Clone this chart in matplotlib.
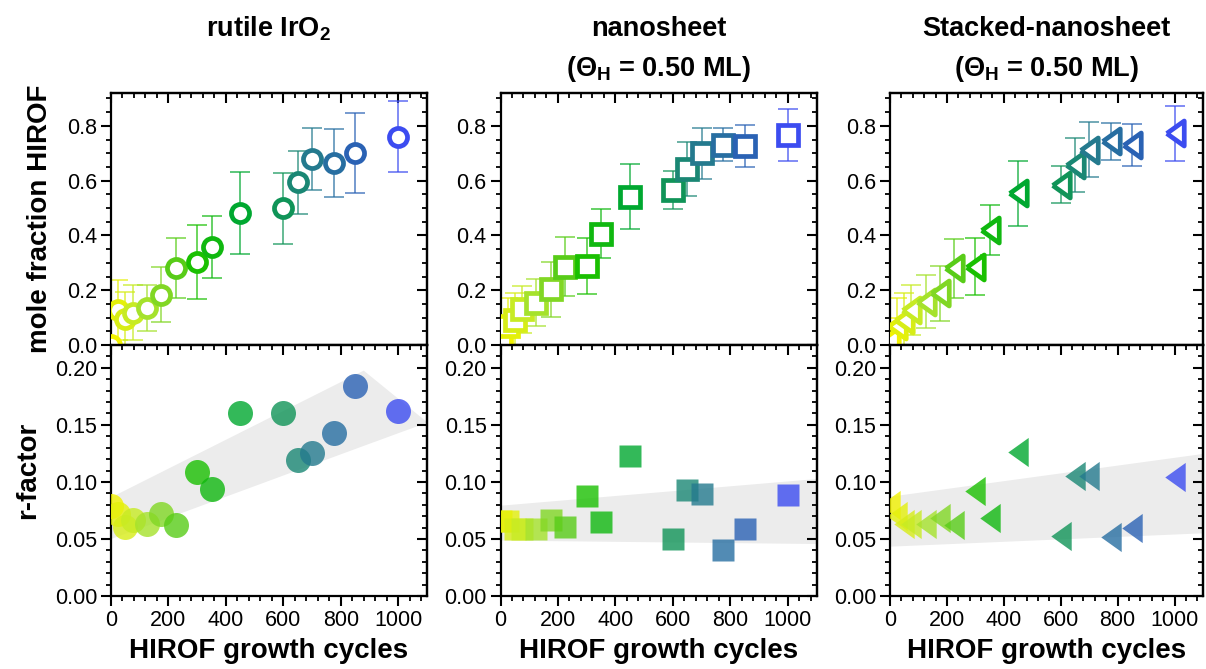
import numpy as np
import matplotlib
matplotlib.use('Agg')
import matplotlib.pyplot as plt
from matplotlib.colors import LinearSegmentedColormap
from matplotlib.ticker import MultipleLocator, FormatStrFormatter

plt.rcParams['font.family'] = ['Liberation Sans', 'DejaVu Sans']
plt.rcParams['mathtext.fontset'] = 'custom'
plt.rcParams['mathtext.rm'] = 'Liberation Sans:bold'
plt.rcParams['mathtext.bf'] = 'Liberation Sans:bold'
plt.rcParams['mathtext.it'] = 'Liberation Sans:bold'

# ---- data ----
cycles = [0, 25, 50, 75, 125, 175, 225, 300, 350, 450, 600, 650, 700, 775, 850, 1000]

titles_1 = ['rutile IrO$_2$', 'nanosheet', 'Stacked-nanosheet']
titles_2 = [None, '(\u0398$_H$ = 0.50 ML)', '(\u0398$_H$ = 0.50 ML)']
markers = ['o', 's', [(-0.7, 0), (0.7, 1), (0.7, -1), (-0.7, 0)]]

mf_rutile = [0.0, 0.128, 0.094, 0.118, 0.136, 0.183, 0.28, 0.304, 0.359, 0.483,
             0.499, 0.594, 0.678, 0.664, 0.70, 0.761]
mf_rutile_err = [0.10, 0.11, 0.10, 0.10, 0.084, 0.10, 0.11, 0.135, 0.113, 0.15,
                 0.129, 0.116, 0.113, 0.123, 0.146, 0.13]
mf_nano = [0.01, 0.07, 0.091, 0.13, 0.155, 0.203, 0.286, 0.29, 0.406, 0.542,
           0.566, 0.642, 0.70, 0.731, 0.727, 0.767]
mf_nano_err = [0.08, 0.10, 0.098, 0.087, 0.087, 0.10, 0.107, 0.102, 0.09, 0.12,
               0.068, 0.098, 0.094, 0.06, 0.076, 0.094]
mf_stack = [0.02, 0.07, 0.091, 0.128, 0.158, 0.189, 0.28, 0.286, 0.42, 0.554,
            0.585, 0.658, 0.713, 0.743, 0.731, 0.773]
mf_stack_err = [0.08, 0.10, 0.10, 0.09, 0.097, 0.10, 0.108, 0.105, 0.09, 0.119,
                0.068, 0.099, 0.10, 0.068, 0.076, 0.10]

rf_rutile = [0.079, 0.072, 0.0607, 0.0665, 0.0627, 0.0718, 0.0618, 0.109, 0.094, 0.160,
             0.160, 0.1196, 0.125, 0.143, 0.184, 0.162]
rf_nano = [0.066, 0.066, 0.059, 0.059, 0.059, 0.0665, 0.0606, 0.0875, 0.065, 0.1227,
           0.0498, 0.0927, 0.0898, 0.040, 0.0589, 0.0883]
rf_stack = [0.08, 0.07, 0.063, 0.063, 0.063, 0.068, 0.062, 0.092, 0.0688, 0.1265,
            0.0528, 0.105, 0.105, 0.052, 0.060, 0.104]

# grey trend bands (r-factor)
band_rutile_x = [0, 878, 1100]
band_rutile_lo = [0.0505, 0.1320, 0.1525]
band_rutile_hi = [0.087, 0.198, 0.1525]
band_nano_x = [0, 1100]
band_nano_lo = [0.049, 0.046]
band_nano_hi = [0.0796, 0.103]
band_stack_x = [0, 1100]
band_stack_lo = [0.0437, 0.0554]
band_stack_hi = [0.0875, 0.125]

mf_all = [(mf_rutile, mf_rutile_err), (mf_nano, mf_nano_err), (mf_stack, mf_stack_err)]
rf_all = [rf_rutile, rf_nano, rf_stack]
bands = [(band_rutile_x, band_rutile_lo, band_rutile_hi),
         (band_nano_x, band_nano_lo, band_nano_hi),
         (band_stack_x, band_stack_lo, band_stack_hi)]

cmap = LinearSegmentedColormap.from_list('hirof', [
    (0.0, '#f2f200'), (0.1, '#b8e830'), (0.2, '#6cd020'), (0.3, '#18c000'),
    (0.45, '#00a830'), (0.6, '#109458'), (0.7, '#247a8e'), (0.85, '#2a62b4'),
    (1.0, '#3c4cf0')])
colors = [cmap(c / 1000) for c in cycles]

fig = plt.figure(figsize=(12.06, 6.69), dpi=100)
lefts = [111 / 1206, 500.5 / 1206, 890 / 1206]
widths = [316 / 1206, 316 / 1206, 313 / 1206]
y_bot, y_mid, y_top = 73 / 669, 324 / 669, 576 / 669


def style_axis(ax, ymaj, ymin, fmt, xlabels):
    ax.set_xlim(0, 1100)
    ax.xaxis.set_major_locator(MultipleLocator(200))
    ax.xaxis.set_minor_locator(MultipleLocator(40))
    ax.yaxis.set_major_locator(MultipleLocator(ymaj))
    ax.yaxis.set_minor_locator(MultipleLocator(ymin))
    ax.yaxis.set_major_formatter(FormatStrFormatter(fmt))
    ax.tick_params(which='major', direction='out', length=7, width=1.5, labelsize=15.5,
                   top=False, right=False, labelbottom=xlabels, pad=3)
    ax.tick_params(which='minor', direction='out', length=3.5, width=1.3,
                   top=False, right=False)
    for s in ax.spines.values():
        s.set_linewidth(1.6)
    sx = ax.secondary_xaxis('top')
    sy = ax.secondary_yaxis('right')
    sx.xaxis.set_major_locator(MultipleLocator(200))
    sx.xaxis.set_minor_locator(MultipleLocator(40))
    sy.yaxis.set_major_locator(MultipleLocator(ymaj))
    sy.yaxis.set_minor_locator(MultipleLocator(ymin))
    for sa in (sx, sy):
        sa.tick_params(which='major', direction='in', length=7, width=1.5,
                       labeltop=False, labelright=False)
        sa.tick_params(which='minor', direction='in', length=3.5, width=1.3)
        for s in sa.spines.values():
            s.set_linewidth(1.6)


for i in range(3):
    ax_t = fig.add_axes([lefts[i], y_mid, widths[i], y_top - y_mid])
    ax_b = fig.add_axes([lefts[i], y_bot, widths[i], y_mid - y_bot])
    vals, errs = mf_all[i]
    mk = markers[i]
    ms_t = [13, 14, 18][i]
    ms_b = [18, 16, 21][i]
    for x, y, e, c in zip(cycles, vals, errs, colors):
        ax_t.errorbar(x, y, yerr=e, color=c, alpha=0.75, lw=1.2, capsize=7,
                      capthick=1.2, fmt='none', zorder=2)
    for x, y, c in zip(cycles, vals, colors):
        ax_t.plot(x, y, marker=mk, ms=ms_t, mfc='white', mec=c, mew=3.4,
                  ls='none', zorder=3)
    bx, blo, bhi = bands[i]
    ax_b.fill_between(bx, blo, bhi, color='#ececec', lw=0, zorder=0)
    for x, y, c in zip(cycles, rf_all[i], colors):
        ax_b.plot(x, y, marker=mk, ms=ms_b, mfc=c, mec='none', alpha=0.8,
                  ls='none', zorder=3)
    ax_t.set_ylim(0, 0.92)
    ax_b.set_ylim(0, 0.22)
    style_axis(ax_t, 0.2, 0.05, '%.1f', False)
    style_axis(ax_b, 0.05, 0.01, '%.2f', True)
    ax_b.set_xlabel('HIROF growth cycles', fontsize=20, fontweight='bold', labelpad=5)
    cx = lefts[i] + widths[i] / 2
    fig.text(cx, 1 - 29 / 669, titles_1[i], ha='center', va='center', fontsize=19.5,
             fontweight='bold')
    if titles_2[i]:
        fig.text(cx, 1 - 69 / 669, titles_2[i], ha='center', va='center', fontsize=19.5,
                 fontweight='bold')
    if i == 0:
        ax_t.set_ylabel('mole fraction HIROF', fontsize=20, fontweight='bold', labelpad=10)
        ax_b.set_ylabel('r-factor', fontsize=20, fontweight='bold', labelpad=10)

fig.savefig('out.png', dpi=100)
